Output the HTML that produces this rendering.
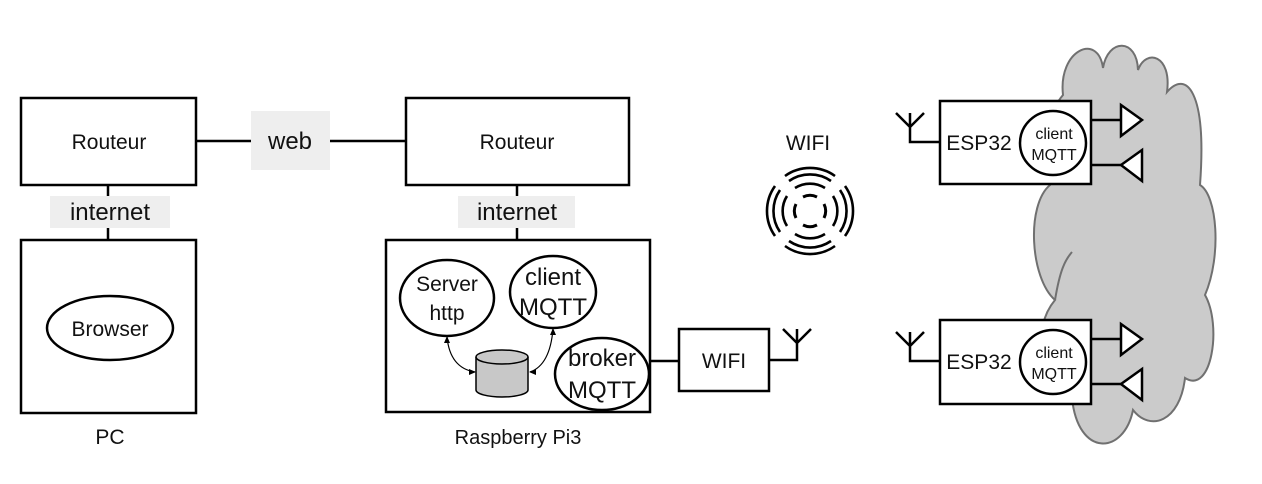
<!DOCTYPE html>
<html><head><meta charset="utf-8"><style>
html,body{margin:0;padding:0;background:#fff;}
svg{display:block;}
text{font-family:"Liberation Sans",sans-serif;fill:#111;}
</style></head><body>
<svg width="1262" height="484" viewBox="0 0 1262 484" xmlns="http://www.w3.org/2000/svg">
<defs>
<g id="arcs" fill="none" stroke="#000" stroke-width="2.6">
  <path d="M-25,-35 A43,43 0 0 1 25,-35"/>
  <path d="M-21,-30 A37,37 0 0 1 21,-30"/>
  <path d="M-15,-23 A28,28 0 0 1 15,-23"/>
  <path d="M-7,-14 A16,16 0 0 1 7,-14" stroke-width="3"/>
</g>
</defs>
<path d="M1063,95 C1058,50 1098,32 1103,68 C1108,38 1137,38 1138,70 C1146,48 1172,55 1167,92 C1186,70 1207,90 1200,185 C1217,195 1222,255 1205,295 C1222,325 1212,395 1185,378 C1180,422 1150,432 1133,410 C1124,455 1078,458 1072,398 C1042,378 1030,330 1055,300 C1030,278 1026,205 1050,185 C1040,142 1050,110 1063,95 Z" fill="#cbcbcb" stroke="#707070" stroke-width="2"/>
<path d="M1072,398 C1060,380 1058,360 1070,345" fill="none" stroke="#707070" stroke-width="2"/>
<path d="M1055,300 C1060,270 1065,260 1072,252" fill="none" stroke="#707070" stroke-width="2"/>

<g stroke="#000" stroke-width="2.5" fill="none">
<rect x="21" y="98" width="175" height="87" fill="#fff"/>
<rect x="406" y="98" width="223" height="87" fill="#fff"/>
<line x1="196" y1="141" x2="406" y2="141"/>
<line x1="108" y1="185" x2="108" y2="240"/>
<line x1="517" y1="185" x2="517" y2="240"/>
<rect x="21" y="240" width="175" height="173" fill="#fff"/>
<rect x="386" y="240" width="264" height="172" fill="#fff"/>
<line x1="650" y1="361" x2="679" y2="361"/>
<rect x="679" y="329" width="90" height="62" fill="#fff"/>
<path d="M769,360 H797 V343 M797,343 L783,329 M797,343 L811,329 M797,343 V329"/>
<path d="M940,142 H910 V127 M910,127 L896,113 M910,127 L924,113 M910,127 V113"/>
<path d="M940,361 H910 V346 M910,346 L896,332 M910,346 L924,332 M910,346 V332"/>
<rect x="940" y="101" width="151" height="83" fill="#fff"/>
<rect x="940" y="320" width="151" height="84" fill="#fff"/>
<line x1="1091" y1="120" x2="1121" y2="120"/>
<path d="M1121,105 L1142,120 L1121,136 Z" fill="#fff"/>
<line x1="1091" y1="165" x2="1121" y2="165"/>
<path d="M1142,150 L1121,165 L1142,181 Z" fill="#fff"/>
<line x1="1091" y1="339" x2="1121" y2="339"/>
<path d="M1121,324 L1142,339 L1121,355 Z" fill="#fff"/>
<line x1="1091" y1="384" x2="1121" y2="384"/>
<path d="M1142,369 L1121,384 L1142,400 Z" fill="#fff"/>
<ellipse cx="1053" cy="143" rx="33" ry="32" fill="#fff"/>
<ellipse cx="1053" cy="362" rx="33" ry="32" fill="#fff"/>
<ellipse cx="110" cy="328" rx="63" ry="32" fill="#fff"/>
<ellipse cx="447" cy="298" rx="47" ry="38" fill="#fff"/>
<ellipse cx="553" cy="292" rx="43" ry="36" fill="#fff"/>
<ellipse cx="602" cy="374" rx="47" ry="36" fill="#fff"/>
</g>
<rect x="251" y="111" width="79" height="59" fill="#eeeeee"/>
<rect x="50" y="196" width="120" height="32" fill="#eeeeee"/>
<rect x="458" y="196" width="117" height="32" fill="#eeeeee"/>
<g stroke="#000" stroke-width="1.5" fill="#c8c8c8">
<path d="M476,357 V390 A26,7 0 0 0 528,390 V357"/>
<ellipse cx="502" cy="357" rx="26" ry="7"/>
</g>
<g fill="none" stroke="#000" stroke-width="1.2">
<path d="M447,337 Q450,368 475,372"/>
<path d="M553,329 Q550,365 530,372"/>
</g>
<g fill="#000">
<path d="M447,336 l-3,7 l6,0 z"/>
<path d="M476,372 l-7,-3 l0,6 z"/>
<path d="M553,328 l-3,7 l6,0 z"/>
<path d="M529,372 l7,-3 l0,6 z"/>
</g>
<g transform="translate(810,211)">
<use href="#arcs"/>
<use href="#arcs" transform="rotate(90)"/>
<use href="#arcs" transform="rotate(180)"/>
<use href="#arcs" transform="rotate(270)"/>
</g>
<g font-size="21" text-anchor="middle">
<text x="109" y="149">Routeur</text>
<text x="517" y="149">Routeur</text>
<text x="290" y="149" font-size="24">web</text>
<text x="110" y="220" font-size="24">internet</text>
<text x="517" y="220" font-size="24">internet</text>
<text x="110" y="336">Browser</text>
<text x="110" y="444">PC</text>
<text x="518" y="444" font-size="20">Raspberry Pi3</text>
<text x="447" y="291">Server</text>
<text x="447" y="320">http</text>
<text x="553" y="285" font-size="24">client</text>
<text x="553" y="315" font-size="24">MQTT</text>
<text x="602" y="366" font-size="24">broker</text>
<text x="602" y="398" font-size="24">MQTT</text>
<text x="724" y="368">WIFI</text>
<text x="808" y="150">WIFI</text>
<text x="979" y="150">ESP32</text>
<text x="979" y="369">ESP32</text>
<text x="1054" y="139" font-size="16">client</text>
<text x="1054" y="160" font-size="16">MQTT</text>
<text x="1054" y="358" font-size="16">client</text>
<text x="1054" y="379" font-size="16">MQTT</text>
</g>
</svg>
</body></html>
